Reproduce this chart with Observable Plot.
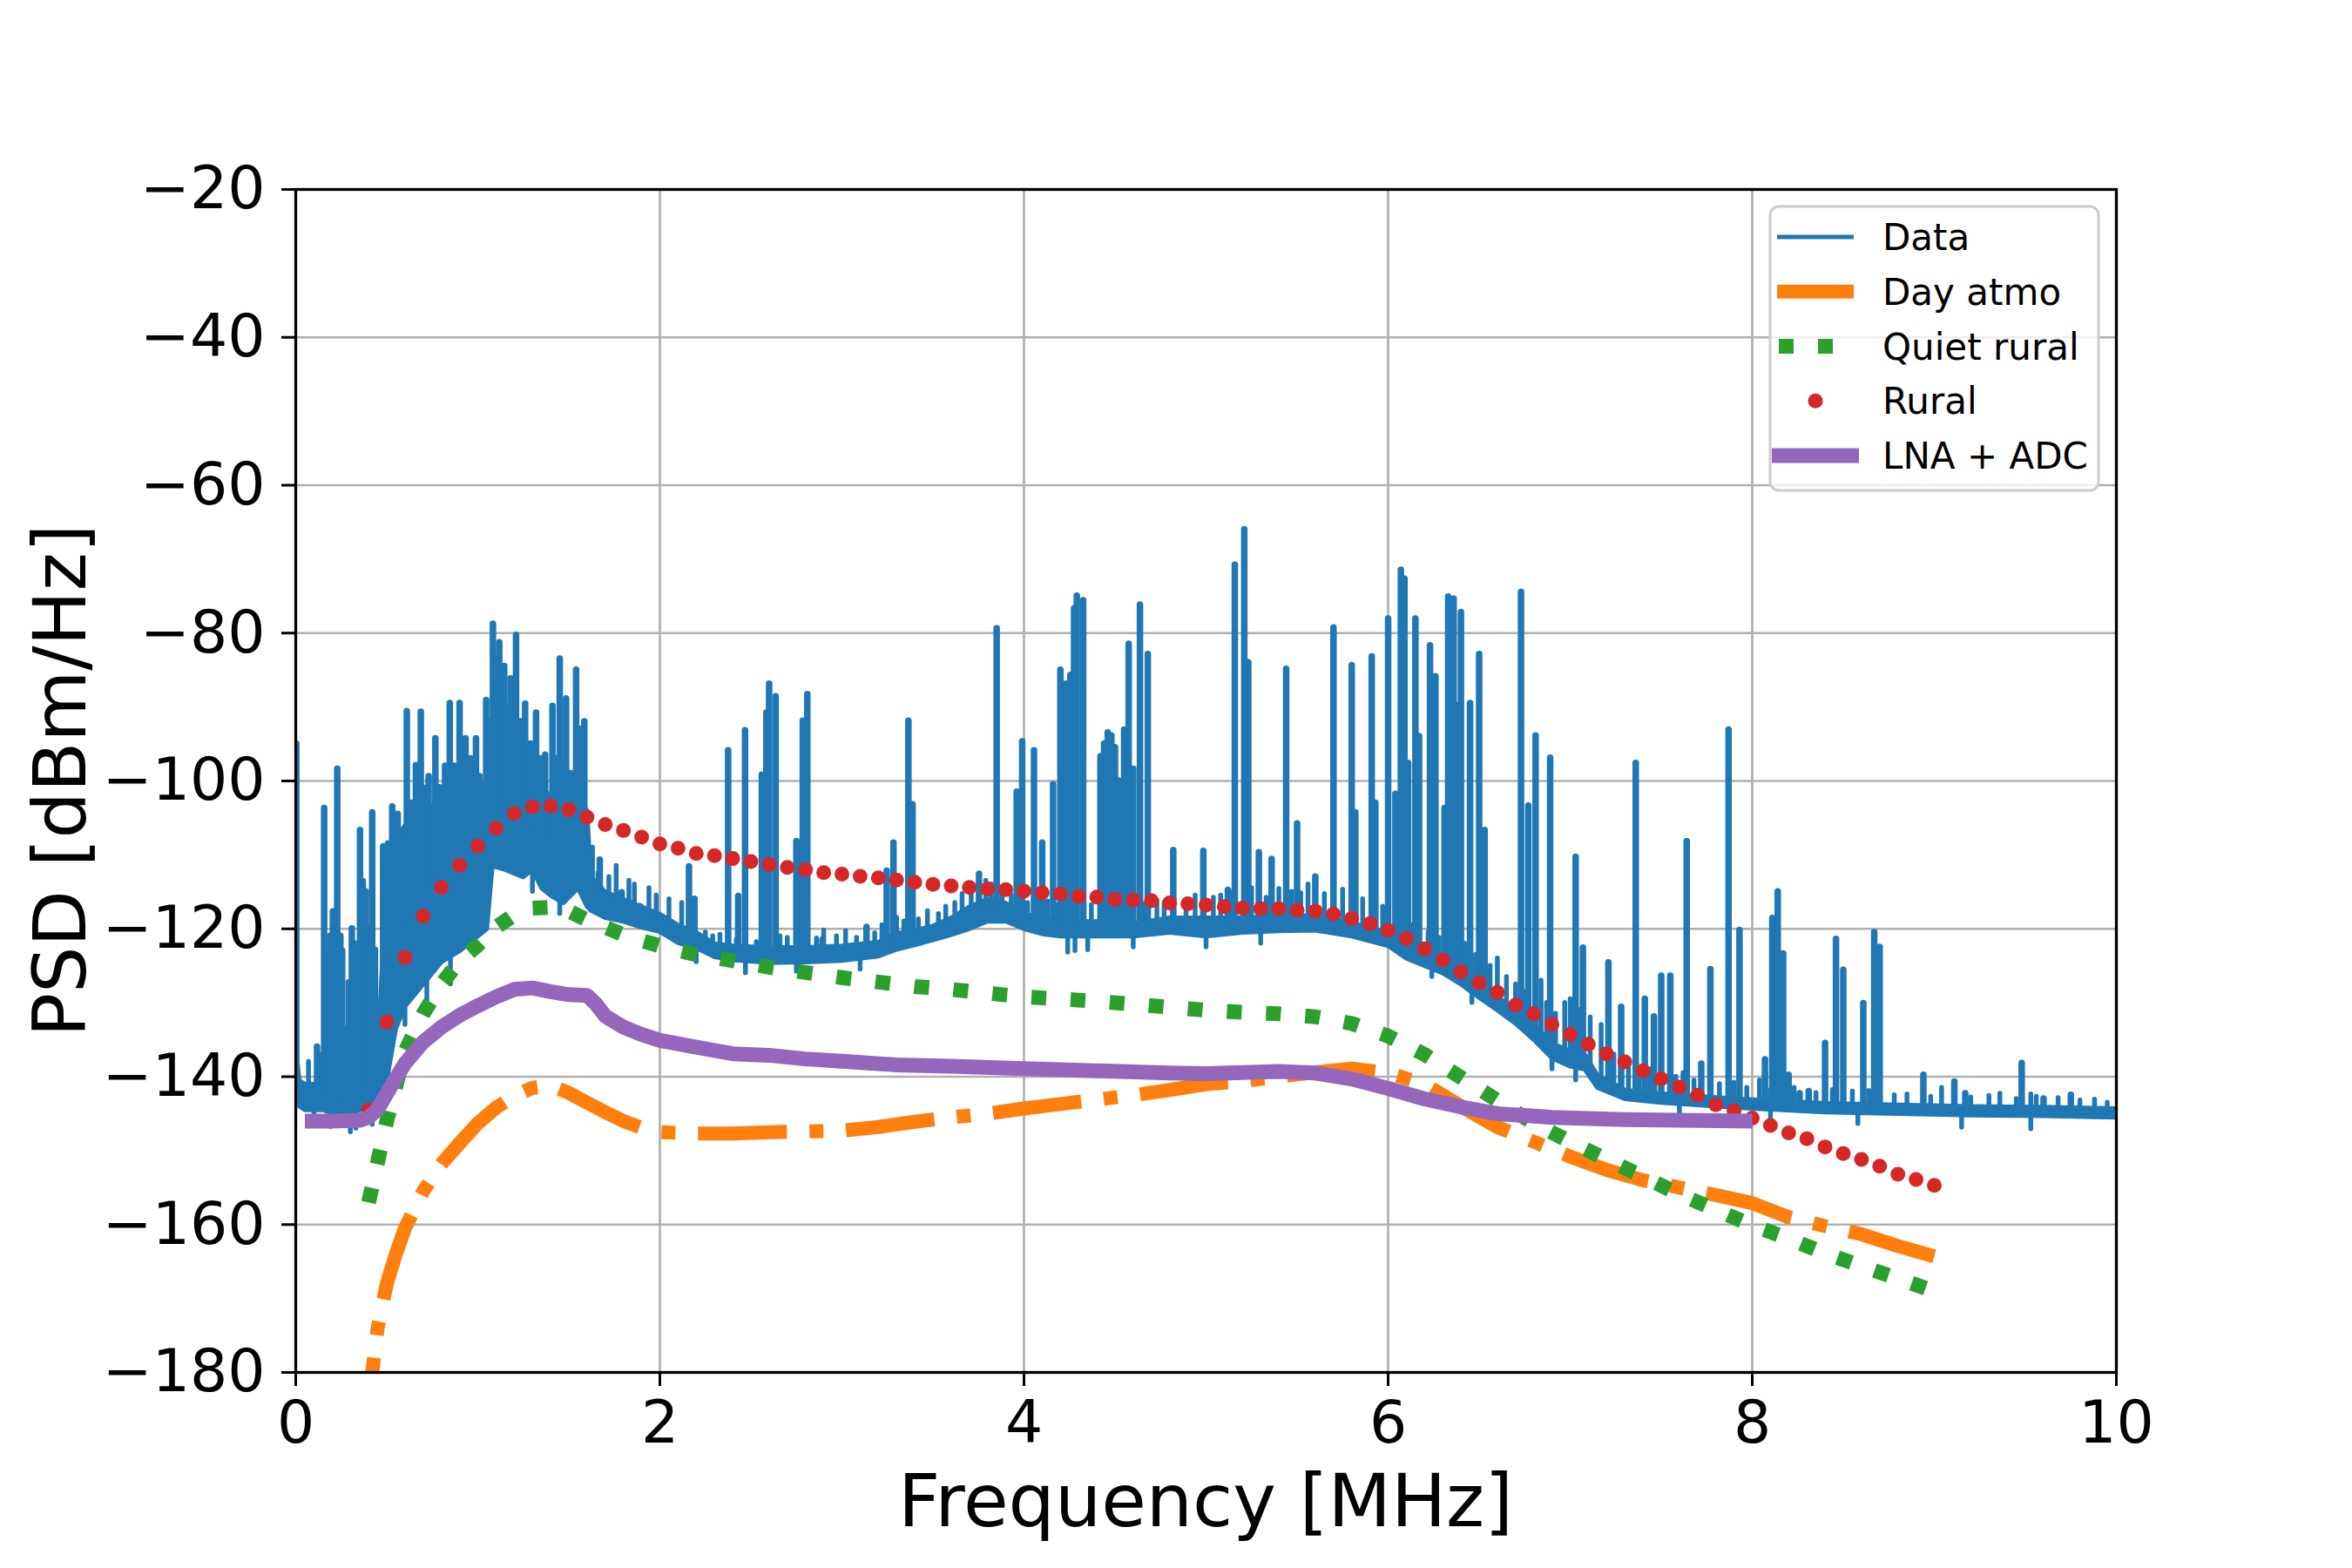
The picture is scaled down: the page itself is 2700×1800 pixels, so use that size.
<!DOCTYPE html>
<html>
<head>
<meta charset="utf-8">
<script src="https://cdn.jsdelivr.net/npm/d3@7"></script>
<script src="https://cdn.jsdelivr.net/npm/@observablehq/plot@0.6"></script>
<style>
  html, body { margin: 0; padding: 0; background: #fff; }
  svg { display: block; }
</style>
</head>
<body>
<div id="chart"></div>
<script>
// ---------- Data ----------
const xTicks = [0, 2, 4, 6, 8, 10];
const yTicks = [-20, -40, -60, -80, -100, -120, -140, -160, -180];

// "Data" measured spectrum: noise band (lower / upper edge) ...
const traceF  = [0, 0.02, 0.05, 0.1, 0.15, 0.2, 0.25, 0.3, 0.35, 0.4, 0.45, 0.5, 0.55, 0.6, 0.7, 0.8, 0.9, 1.0, 1.05, 1.08, 1.15, 1.25, 1.3, 1.35, 1.4, 1.47, 1.55, 1.6, 1.62, 1.7, 1.8, 1.9, 2.0, 2.1, 2.2, 2.3, 2.4, 2.6, 2.8, 3.0, 3.2, 3.3, 3.4, 3.5, 3.6, 3.7, 3.8, 3.9, 4.0, 4.1, 4.2, 4.4, 4.6, 4.8, 5.0, 5.2, 5.4, 5.6, 5.8, 6.0, 6.1, 6.2, 6.3, 6.4, 6.5, 6.6, 6.7, 6.8, 6.9, 7.0, 7.08, 7.15, 7.3, 7.5, 7.8, 8.0, 8.4, 8.8, 9.2, 9.6, 10.0];
const traceLo = [-142, -144, -144.5, -144.5, -144.5, -145, -145, -145, -144.5, -144, -142.5, -140.5, -133.5, -130.5, -127.5, -124.5, -123, -121, -120, -111.5, -112, -113, -112, -114.5, -115.5, -116.5, -114.5, -117, -117.5, -118.5, -119, -119.8, -120.4, -121.9, -122.6, -123.8, -124.2, -124.6, -124.5, -124.3, -123.7, -122.8, -122.2, -121.5, -120.8, -120, -119, -119, -120, -120.7, -121, -121, -121, -120.5, -121, -120.5, -120.3, -120.2, -121, -122.3, -124, -125, -126, -127.5, -129.3, -131, -132.8, -135, -137.5, -138.6, -139, -141.5, -143, -143.5, -144, -144.3, -144.8, -145, -145.2, -145.3, -145.5];
const traceHi = [-136, -140.5, -141, -141, -140.5, -141, -141.5, -141.5, -140.5, -139.5, -137, -112, -108, -106, -104, -102.5, -102, -101, -100, -100, -99, -99, -100, -101, -102, -103, -102, -104, -113, -115, -116, -117, -118, -119.5, -120.5, -122, -122.3, -122.5, -122.5, -122.3, -121.8, -120.6, -120.2, -119.6, -118.5, -117, -116, -116.5, -118, -118.5, -119, -119, -119.3, -118.5, -118.5, -118.5, -118.3, -118.2, -119.2, -120.5, -122, -123.2, -124.3, -125.7, -127.5, -129.2, -131, -133, -135.5, -136.5, -137, -139.8, -141.8, -142.3, -142.8, -143.1, -143.6, -143.8, -144, -144.1, -144.3];

// ... tall narrow spikes (frequency, peak level)
const spikeF   = [0.003, 0.117, 0.156, 0.18, 0.19, 0.204, 0.215, 0.228, 0.245, 0.255, 0.276, 0.292, 0.308, 0.32, 0.34, 0.353, 0.368, 0.385, 0.395, 0.42, 0.435, 0.46, 0.48, 0.507, 0.53, 0.56, 0.61, 0.635, 0.66, 0.687, 0.71, 0.73, 0.767, 0.79, 0.82, 0.846, 0.87, 0.9, 0.933, 0.96, 0.99, 1.01, 1.046, 1.065, 1.083, 1.1, 1.118, 1.145, 1.165, 1.18, 1.21, 1.235, 1.26, 1.29, 1.32, 1.345, 1.37, 1.41, 1.43, 1.45, 1.47, 1.485, 1.51, 1.54, 1.565, 1.585, 1.67, 1.79, 1.89, 2.16, 2.19, 2.375, 2.43, 2.468, 2.56, 2.585, 2.6, 2.636, 2.75, 2.785, 2.81, 2.893, 3.135, 3.246, 3.283, 3.365, 3.388, 3.753, 3.85, 3.96, 3.99, 4.055, 4.1, 4.16, 4.2, 4.23, 4.255, 4.275, 4.29, 4.325, 4.42, 4.44, 4.46, 4.48, 4.5, 4.52, 4.55, 4.575, 4.6, 4.637, 4.68, 4.82, 4.985, 5.12, 5.158, 5.21, 5.232, 5.29, 5.36, 5.44, 5.5, 5.6, 5.7, 5.8, 5.82, 5.91, 5.93, 6.0, 6.04, 6.07, 6.09, 6.11, 6.15, 6.17, 6.23, 6.26, 6.31, 6.33, 6.36, 6.38, 6.4, 6.45, 6.5, 6.53, 6.73, 6.77, 6.81, 6.89, 7.03, 7.07, 7.21, 7.28, 7.36, 7.41, 7.46, 7.5, 7.55, 7.64, 7.72, 7.77, 7.87, 7.93, 8.07, 8.11, 8.14, 8.17, 8.2, 8.26, 8.31, 8.4, 8.46, 8.5, 8.61, 8.67, 8.7, 8.94, 9.11, 9.17, 9.48, 9.6, 9.75];
const spikeTop = [-95, -136, -103.7, -124, -121, -117.7, -127, -98.4, -121, -123, -133.6, -127.3, -120, -122, -125, -106.7, -113.6, -115, -120, -104.3, -122.9, -130, -108.9, -108.5, -103.5, -104.5, -90.6, -103, -97.9, -90.7, -101, -99.4, -94.3, -100.9, -98, -89.5, -98, -89.5, -94.3, -97, -94.3, -99.4, -89.1, -92, -78.8, -83.5, -81.3, -84.5, -90, -86.2, -80.3, -92, -89.6, -95, -90.8, -97, -96.5, -89.9, -97, -83.5, -98, -88.9, -99, -85, -93, -92, -110.7, -115.1, -117, -111.6, -116, -95.9, -115.6, -93.2, -99.2, -90.8, -86.9, -88.6, -108.2, -91.9, -88.3, -121.5, -119.8, -112.2, -108.4, -91.9, -103.2, -112.6, -79.4, -101.5, -94.7, -95.9, -108.4, -100.5, -85, -86.9, -85.7, -76.7, -75, -75.6, -96.7, -95, -93.5, -93.9, -95.5, -100, -93.1, -81.5, -98.4, -76.2, -82.9, -109.4, -109.5, -114.8, -70.8, -66, -84, -109.7, -110.6, -84.9, -105.8, -113, -79.3, -84.4, -104.3, -83.2, -103, -78.1, -101.8, -71.5, -72.7, -97.6, -78.1, -94, -81.7, -85.9, -103.7, -75.1, -75.4, -89.8, -77.2, -89.5, -82.9, -106.7, -74.5, -103.4, -93.9, -96.9, -110.3, -122.6, -124.6, -130.6, -97.6, -129.5, -131.9, -126.4, -126.4, -108.2, -138.3, -125.5, -93.1, -120.2, -137.7, -118.6, -115, -123.4, -139.8, -142.3, -142, -135.5, -121.4, -125.6, -130.1, -120.5, -122.5, -139.8, -140.7, -142.3, -138.2, -143, -142.5];

// ... small noise excursions above the trace (frequency, level)
const fuzzUpF = [0.07, 0.13, 0.24, 0.27, 0.36, 0.4, 1.63, 1.66, 1.72, 1.76, 1.83, 1.86, 1.94, 1.98, 2.05, 2.12, 2.25, 2.29, 2.33, 2.42, 2.53, 2.66, 2.7, 2.86, 2.9, 2.97, 3.02, 3.08, 3.18, 3.22, 3.3, 3.34, 3.42, 3.47, 3.53, 3.57, 3.62, 3.66, 3.71, 3.79, 3.82, 3.88, 3.93, 4.02, 4.08, 4.13, 4.18, 4.33, 4.37, 4.58, 4.65, 4.73, 4.77, 4.89, 4.94, 5.04, 5.08, 5.15, 5.25, 5.33, 5.4, 5.47, 5.52, 5.56, 5.65, 5.75, 5.86, 5.97, 6.05, 6.13, 6.22, 6.28, 6.35, 6.42, 6.48, 6.56, 6.6, 6.65, 6.7, 6.75, 6.84, 6.87, 6.92, 6.97, 7.0, 7.05, 7.11, 7.17, 7.24, 7.32, 7.38, 7.44, 7.58, 7.62, 7.68, 7.82, 7.9, 7.97, 8.04, 8.1, 8.23, 8.35, 8.44, 8.55, 8.64, 8.78, 8.85, 8.98, 9.04, 9.2, 9.3, 9.36, 9.45, 9.53, 9.56, 9.68, 9.8, 9.88, 9.95];
const fuzzUpV = [-138, -137, -136, -137.5, -136.5, -135, -109, -112.5, -113, -111.5, -113.5, -114, -114.5, -115.5, -116, -116.5, -120.5, -121, -120.8, -121.5, -121.8, -121, -121.2, -121.3, -120.2, -121, -120.3, -121.2, -120.6, -119.5, -118.5, -119, -118.7, -117.6, -118, -117, -116.5, -115.3, -114.2, -113.5, -114, -114.5, -115.5, -116.5, -116, -116.3, -116.8, -116.5, -116.8, -117, -116.6, -116.2, -116.5, -116.4, -115.5, -115.8, -115.5, -115, -114.5, -115.8, -114.6, -115, -115.2, -114, -115.3, -114.7, -116, -117, -118, -119.5, -120.5, -121.2, -122, -122, -123.5, -125, -124, -126.5, -127.5, -128.5, -127, -130, -131.5, -130, -129.5, -131, -132, -133, -137, -138.5, -139.5, -139, -140, -139.5, -140.5, -141, -140.8, -141.5, -140.5, -141.8, -141.5, -142.2, -141.8, -142, -141.9, -142.5, -142.4, -142.7, -141.5, -142.8, -142.6, -142.3, -143, -142.4, -142.7, -142.9, -143.2, -143.1, -143.5];

// ... and small dips below the trace (frequency, level)
const fuzzDnF = [0.1, 0.19, 0.3, 0.33, 0.42, 0.6, 0.72, 0.85, 1.3, 1.45, 2.2, 2.47, 2.75, 3.1, 4.24, 4.28, 4.35, 4.6, 5.0, 5.3, 6.24, 6.46, 6.9, 7.03, 7.6, 8.1, 8.58, 9.15, 9.53];
const fuzzDnV = [-146.5, -146.8, -147.5, -147, -146.5, -133, -130.5, -127.5, -115, -118, -124.5, -126, -125.8, -125.5, -123.2, -123, -122.9, -122.5, -122.5, -122, -126.5, -130, -139, -140.5, -145.2, -146.2, -146.4, -146.9, -147.1];

// "Day atmo"
const dayF = [0.4, 0.42, 0.45, 0.5, 0.55, 0.6, 0.7, 0.8, 0.9, 1.0, 1.1, 1.2, 1.3, 1.4, 1.5, 1.6, 1.7, 1.8, 1.9, 2.0, 2.2, 2.4, 2.6, 2.8, 3.0, 3.2, 3.4, 3.6, 3.8, 4.0, 4.2, 4.4, 4.6, 4.8, 5.0, 5.2, 5.4, 5.6, 5.8, 6.0, 6.2, 6.4, 6.6, 6.8, 7.0, 7.2, 7.4, 7.6, 7.8, 8.0, 8.2, 8.4, 8.6, 8.8, 9.0];
const dayV = [-190, -180, -174, -168, -164, -160.5, -155.5, -151.8, -149, -146.3, -144.2, -142.6, -141.5, -141.2, -142.2, -143.5, -144.8, -146, -146.9, -147.5, -147.7, -147.7, -147.5, -147.4, -147.3, -146.8, -146.1, -145.5, -145, -144.3, -143.7, -143.1, -142.5, -141.8, -141, -140.6, -140, -139.4, -138.9, -139.5, -141, -144, -146.8, -148.8, -150.8, -152.6, -154, -155, -156, -157.1, -159, -160.2, -161.3, -162.9, -164.3];

// "Quiet rural"
const quietF = [0.4, 0.45, 0.5, 0.6, 0.7, 0.8, 0.9, 1.0, 1.1, 1.2, 1.3, 1.4, 1.5, 1.6, 1.7, 1.8, 1.9, 2.0, 2.2, 2.4, 2.6, 2.8, 3.0, 3.2, 3.4, 3.6, 3.8, 4.0, 4.2, 4.4, 4.6, 4.8, 5.0, 5.2, 5.4, 5.6, 5.8, 6.0, 6.2, 6.4, 6.6, 6.8, 7.0, 7.2, 7.4, 7.6, 7.8, 8.0, 8.2, 8.4, 8.6, 8.8, 9.0];
const quietV = [-157, -151.5, -146, -136.6, -131.5, -127.5, -124.3, -122.2, -119.8, -118.1, -117.2, -117.1, -117.6, -118.8, -119.8, -120.8, -121.6, -122.3, -123.5, -124.3, -125.2, -125.9, -126.6, -127.2, -127.8, -128.2, -128.7, -129.2, -129.5, -129.8, -130.2, -130.6, -131, -131.3, -131.5, -131.9, -132.8, -134.5, -137, -140.1, -143.2, -146.3, -148.8, -151.2, -153.5, -155.9, -158, -160.1, -161.9, -163.9, -165.6, -167.3, -169];

// "Rural" (markers every 0.1 MHz)
const ruralF = [0.4, 0.5, 0.6, 0.7, 0.8, 0.9, 1.0, 1.1, 1.2, 1.3, 1.4, 1.5, 1.6, 1.7, 1.8, 1.9, 2.0, 2.1, 2.2, 2.3, 2.4, 2.5, 2.6, 2.7, 2.8, 2.9, 3.0, 3.1, 3.2, 3.3, 3.4, 3.5, 3.6, 3.7, 3.8, 3.9, 4.0, 4.1, 4.2, 4.3, 4.4, 4.5, 4.6, 4.7, 4.8, 4.9, 5.0, 5.1, 5.2, 5.3, 5.4, 5.5, 5.6, 5.7, 5.8, 5.9, 6.0, 6.1, 6.2, 6.3, 6.4, 6.5, 6.6, 6.7, 6.8, 6.9, 7.0, 7.1, 7.2, 7.3, 7.4, 7.5, 7.6, 7.7, 7.8, 7.9, 8.0, 8.1, 8.2, 8.3, 8.4, 8.5, 8.6, 8.7, 8.8, 8.9, 9.0];
const ruralV = [-144.5, -132.6, -123.9, -118.3, -114.4, -111.4, -108.8, -106.4, -104.4, -103.5, -103.4, -103.9, -104.9, -105.9, -106.7, -107.6, -108.5, -109.1, -109.8, -110.1, -110.5, -110.9, -111.3, -111.7, -112, -112.4, -112.6, -112.9, -113.1, -113.4, -113.7, -114, -114.2, -114.4, -114.6, -114.7, -114.9, -115.1, -115.3, -115.6, -115.7, -116, -116.1, -116.2, -116.5, -116.6, -116.8, -117, -117.2, -117.3, -117.3, -117.5, -117.6, -118, -118.6, -119.3, -120.2, -121.3, -122.7, -124.2, -125.8, -127.3, -128.6, -130.3, -131.5, -132.9, -134.3, -135.6, -136.9, -138, -139.2, -140.3, -141.4, -142.5, -143.8, -144.6, -145.6, -146.6, -147.6, -148.4, -149.5, -150.4, -151.2, -152.1, -153.2, -153.9, -154.7];

// "LNA + ADC"
const lnaF = [0.05, 0.2, 0.35, 0.4, 0.45, 0.5, 0.55, 0.6, 0.7, 0.8, 0.9, 1.0, 1.1, 1.2, 1.3, 1.4, 1.5, 1.6, 1.65, 1.7, 1.8, 1.9, 2.0, 2.2, 2.4, 2.6, 2.8, 3.0, 3.3, 3.6, 4.0, 4.4, 4.8, 5.0, 5.4, 5.6, 5.8, 6.0, 6.2, 6.4, 6.6, 6.9, 7.3, 8.0];
const lnaV = [-146, -146, -145.9, -145.5, -144.4, -142.3, -140.2, -138.2, -135.3, -133.3, -131.7, -130.4, -129.2, -128.2, -128, -128.5, -128.9, -129, -130.2, -131.8, -133.3, -134.3, -135.1, -136, -136.9, -137.1, -137.6, -137.9, -138.4, -138.6, -138.9, -139.2, -139.5, -139.6, -139.3, -139.5, -140.3, -141.6, -143, -144.1, -145, -145.5, -145.8, -146];

const seriesNames  = ["Data", "Day atmo", "Quiet rural", "Rural", "LNA + ADC"];
const seriesColors = ["#1f77b4", "#ff7f0e", "#2ca02c", "#d62728", "#9467bd"];

// ---------- Build tables ----------
const zipXY = (xs, ys) => xs.map((x, i) => ({x, y: ys[i]}));
const band = traceF.map((f, i) => ({x: f, lo: traceLo[i], hi: traceHi[i]}));
function bandFoot(f) {
  const i = d3.bisectRight(traceF, f);
  const i1 = Math.min(traceF.length - 1, i), i0 = Math.max(0, i - 1);
  const t = i1 === i0 ? 0 : (f - traceF[i0]) / (traceF[i1] - traceF[i0]);
  const lo = traceLo[i0] + t * (traceLo[i1] - traceLo[i0]);
  const hi = traceHi[i0] + t * (traceHi[i1] - traceHi[i0]);
  return (lo + hi) / 2;
}
const spikes = spikeF.map((f, i) => ({x: f, top: spikeTop[i], base: bandFoot(f)}));
const fuzzUp = fuzzUpF.map((f, i) => ({x: f, top: fuzzUpV[i], base: bandFoot(f)}));
const fuzzDn = fuzzDnF.map((f, i) => ({x: f, top: fuzzDnV[i], base: bandFoot(f)}));
const day = zipXY(dayF, dayV);
const quiet = zipXY(quietF, quietV);
const rural = zipXY(ruralF, ruralV);
const lna = zipXY(lnaF, lnaV);

const minus = d => (d < 0 ? "\u2212" + Math.abs(d) : String(d));
const FONT = "DejaVu Sans";
const blue = seriesColors[0];

const chart = Plot.plot({
  width: 2700,
  height: 1800,
  marginLeft: 339,
  marginRight: 271,
  marginTop: 217,
  marginBottom: 225,
  style: {fontFamily: FONT, fontSize: "68px", background: "white", color: "black"},
  x: {domain: [0, 10]},
  y: {domain: [-180, -20]},
  marks: [
    Plot.gridX(xTicks, {stroke: "#b0b0b0", strokeOpacity: 1, strokeWidth: 2.7}),
    Plot.gridY(yTicks, {stroke: "#b0b0b0", strokeOpacity: 1, strokeWidth: 2.7}),
    // Data
    Plot.areaY(band, {x: "x", y1: "lo", y2: "hi", fill: blue, clip: true}),
    Plot.line(band, {x: "x", y: "lo", stroke: blue, strokeWidth: 5, clip: true}),
    Plot.line(band, {x: "x", y: "hi", stroke: blue, strokeWidth: 5, clip: true}),
    Plot.ruleX(fuzzUp, {x: "x", y1: "base", y2: "top", stroke: blue, strokeWidth: 5.5, strokeLinecap: "round", clip: true}),
    Plot.ruleX(fuzzDn, {x: "x", y1: "base", y2: "top", stroke: blue, strokeWidth: 5.5, strokeLinecap: "round", clip: true}),
    Plot.ruleX(spikes, {x: "x", y1: "base", y2: "top", stroke: blue, strokeWidth: 7.5, strokeLinecap: "round", clip: true}),
    // Day atmo
    Plot.line(day, {x: "x", y: "y", stroke: seriesColors[1], strokeWidth: 16, strokeDasharray: "102,26,16,26", strokeLinecap: "butt", strokeLinejoin: "round", clip: true}),
    // Quiet rural
    Plot.line(quiet, {x: "x", y: "y", stroke: seriesColors[2], strokeWidth: 17, strokeDasharray: "17,28", strokeLinecap: "butt", strokeLinejoin: "round", clip: true}),
    // Rural
    Plot.dot(rural, {x: "x", y: "y", r: 8.5, fill: seriesColors[3], stroke: "none", clip: true}),
    // LNA + ADC
    Plot.line(lna, {x: "x", y: "y", stroke: seriesColors[4], strokeWidth: 17, strokeLinecap: "butt", strokeLinejoin: "round", clip: true}),
    Plot.frame({stroke: "black", strokeWidth: 3.3}),
    Plot.axisX({ticks: xTicks, tickSize: 16, tickPadding: 16, strokeWidth: 3, label: null, fontSize: 68, tickFormat: d => String(d)}),
    Plot.axisY({ticks: yTicks, tickSize: 16, tickPadding: 19, strokeWidth: 3, label: null, fontSize: 68, tickFormat: minus})
  ]
});

document.getElementById("chart").appendChild(chart);

// ---------- Axis titles & legend (real SVG text) ----------
const svg = d3.select(chart);
svg.append("text")
  .attr("x", 1384).attr("y", 1752)
  .attr("text-anchor", "middle")
  .attr("font-family", FONT).attr("font-size", 84).attr("fill", "black")
  .text("Frequency [MHz]");
svg.append("text")
  .attr("transform", "translate(98,896) rotate(-90)")
  .attr("text-anchor", "middle")
  .attr("font-family", FONT).attr("font-size", 84).attr("fill", "black")
  .text("PSD [dBm/Hz]");

const lg = svg.append("g").attr("font-family", FONT).attr("font-size", 42).attr("text-anchor", "start");
lg.append("rect")
  .attr("x", 2032).attr("y", 237).attr("width", 377).attr("height", 326)
  .attr("rx", 10).attr("ry", 10)
  .attr("fill", "white").attr("fill-opacity", 0.8)
  .attr("stroke", "#cccccc").attr("stroke-width", 3);

const rowY = i => 272 + i * 62.75;
const hx1 = 2040, hx2 = 2128;
seriesNames.forEach((name, i) => {
  const y = rowY(i);
  if (name === "Rural") {
    lg.append("circle").attr("cx", (hx1 + hx2) / 2).attr("cy", y).attr("r", 8.5).attr("fill", seriesColors[i]);
  } else {
    const ln = lg.append("line")
      .attr("x1", hx1).attr("x2", hx2).attr("y1", y).attr("y2", y)
      .attr("stroke", seriesColors[i]);
    if (name === "Data") ln.attr("stroke-width", 5);
    if (name === "Day atmo") ln.attr("stroke-width", 16).attr("stroke-dasharray", "102,26,16,26");
    if (name === "Quiet rural") ln.attr("stroke-width", 17).attr("stroke-dasharray", "17,28").attr("x1", hx1 + 2);
    if (name === "LNA + ADC") ln.attr("stroke-width", 17).attr("x1", hx1 - 6).attr("x2", hx2 + 6);
  }
  lg.append("text").attr("x", 2161).attr("y", y + 15).attr("fill", "black").attr("text-anchor", "start").text(name);
});
</script>
</body>
</html>
